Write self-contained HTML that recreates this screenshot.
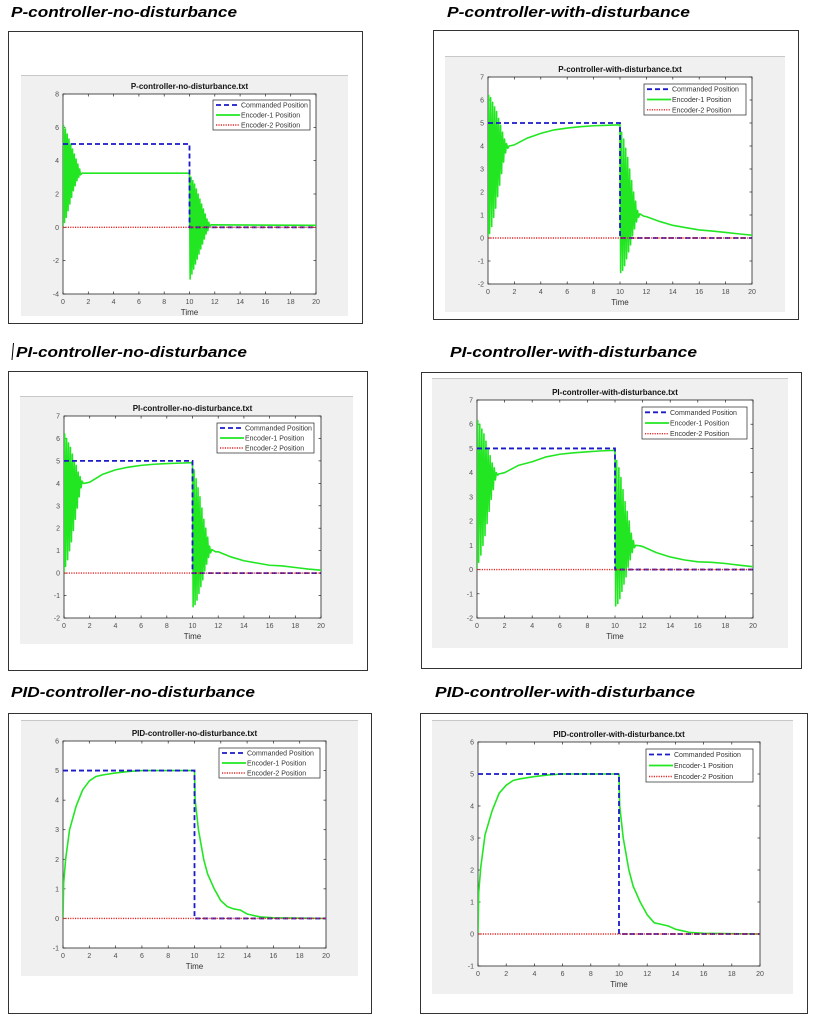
<!DOCTYPE html>
<html><head><meta charset="utf-8"><style>
html,body{margin:0;padding:0;background:#fff;}
svg{display:block;font-family:"Liberation Sans",sans-serif;}
</style></head><body>
<svg id="page" width="839" height="1024" viewBox="0 0 839 1024"></svg>
<script>
// ---------- data ----------
const xTicks = [0,2,4,6,8,10,12,14,16,18,20];
const cmdT = [0,10,10,20];
const cmdY = [5,5,0,0];
const enc2T = [0,20];
const enc2Y = [0,0];

// P controller, no disturbance
const pNoT = [0,0.05,0.12,0.19,0.26,0.33,0.40,0.47,0.54,0.61,0.68,0.75,0.82,0.89,0.96,1.03,1.10,1.17,1.24,1.31,1.38,1.5,10,10.05,10.12,10.19,10.26,10.33,10.40,10.47,10.54,10.61,10.68,10.75,10.82,10.89,10.96,11.03,11.10,11.17,11.24,11.31,11.38,11.45,11.52,11.6,11.7,20];
const pNoY = [0,6.1,0.3,5.9,0.6,5.6,1.0,5.3,1.4,5.0,1.8,4.7,2.2,4.4,2.5,4.1,2.8,3.8,3.0,3.5,3.15,3.25,3.25,-3.1,3.0,-2.8,2.8,-2.5,2.6,-2.2,2.3,-1.9,2.0,-1.6,1.7,-1.3,1.4,-1.0,1.1,-0.7,0.8,-0.4,0.5,-0.2,0.3,0.05,0.15,0.12];

// shared-shape series for P-with, PI-no, PI-with
const pWithT = [0,0.05,0.12,0.2,0.28,0.35,0.43,0.5,0.58,0.65,0.73,0.8,0.88,0.95,1.03,1.1,1.18,1.25,1.33,1.4,1.5,1.6,2,3,4,5,6,7,8,9,10,10.05,10.12,10.2,10.28,10.35,10.43,10.5,10.58,10.65,10.73,10.8,10.88,10.95,11.03,11.1,11.18,11.25,11.33,11.4,11.5,11.8,12,13,14,15,16,17,18,19,20];
const pWithY = [0,6.2,0.2,6.1,0.5,5.9,0.9,5.7,1.3,5.5,1.8,5.2,2.3,4.9,2.8,4.6,3.3,4.3,3.7,4.1,3.9,4.0,4.05,4.35,4.55,4.7,4.78,4.84,4.88,4.9,4.92,-1.5,4.6,-1.4,4.3,-1.2,3.9,-0.9,3.5,-0.6,3.0,-0.3,2.5,0.1,2.0,0.4,1.6,0.7,1.2,0.9,1.05,0.95,0.93,0.72,0.55,0.45,0.35,0.3,0.24,0.18,0.12];
const piNoT = pWithT.slice();
const piNoY = [0,6.2,0.3,6.0,0.6,5.8,1.0,5.6,1.4,5.3,1.9,5.0,2.4,4.8,2.9,4.5,3.4,4.3,3.8,4.1,4.0,4.0,4.05,4.4,4.6,4.72,4.8,4.85,4.88,4.9,4.92,-1.5,4.6,-1.4,4.2,-1.2,3.8,-0.9,3.4,-0.6,2.9,-0.3,2.4,0.1,2.0,0.4,1.6,0.7,1.2,0.9,1.05,0.95,0.95,0.72,0.55,0.45,0.35,0.32,0.25,0.18,0.13];
const piWithT = pWithT.slice();
const piWithY = [0,6.15,0.3,6.0,0.6,5.8,1.0,5.6,1.4,5.3,1.9,5.0,2.4,4.7,2.9,4.4,3.3,4.2,3.7,4.0,3.9,3.95,4.0,4.3,4.45,4.65,4.76,4.82,4.86,4.9,4.92,-1.5,4.5,-1.4,4.2,-1.2,3.8,-0.9,3.3,-0.6,2.8,-0.3,2.4,0.1,2.0,0.4,1.5,0.7,1.2,0.9,1.0,0.98,0.95,0.7,0.52,0.4,0.32,0.3,0.25,0.18,0.12];

// PID
const pidNoT = [0,0.05,0.2,0.5,1,1.5,2,2.5,3,4,5,6,10,10.05,10.3,10.7,11,11.5,12,12.5,13,13.5,14,15,16,20];
const pidNoY = [0,1.2,2.0,3.0,3.8,4.35,4.65,4.8,4.85,4.92,4.97,5.0,5.0,4.0,3.0,2.0,1.5,1.0,0.6,0.4,0.32,0.28,0.15,0.05,0.02,0];
const pidWithT = pidNoT.slice();
const pidWithY = [0,1.3,2.1,3.1,3.85,4.4,4.65,4.8,4.85,4.92,4.97,5.0,5.0,4.0,3.0,2.0,1.5,1.0,0.6,0.35,0.3,0.25,0.15,0.05,0.02,0];

// ---------- layout ----------
const panels = [
 {id:'p-no', head:'P-controller-no-disturbance', hx:11, hy:17, hw:226, frame:[8,31,362,323], gray:[21,75,348,316], plot:[63,94,316,294], ymin:-4, ymax:8, ystep:2, leg:[213,100,310,130], title:'P-controller-no-disturbance.txt', t:pNoT, y:pNoY},
 {id:'p-with', head:'P-controller-with-disturbance', hx:447, hy:17, hw:243, frame:[433,30,798,319], gray:[445,56,785,312], plot:[488,77,752,284], ymin:-2, ymax:7, ystep:1, leg:[644,84,746,115], title:'P-controller-with-disturbance.txt', t:pWithT, y:pWithY},
 {id:'pi-no', head:'PI-controller-no-disturbance', hx:16, hy:357, hw:231, frame:[8,371,367,670], gray:[20,396,353,644], plot:[64,416,321,618], ymin:-2, ymax:7, ystep:1, leg:[217,423,314,453], title:'PI-controller-no-disturbance.txt', t:piNoT, y:piNoY},
 {id:'pi-with', head:'PI-controller-with-disturbance', hx:450, hy:357, hw:247, frame:[421,372,801,668], gray:[432,378,788,648], plot:[477,400,753,618], ymin:-2, ymax:7, ystep:1, leg:[642,407,747,439], title:'PI-controller-with-disturbance.txt', t:piWithT, y:piWithY},
 {id:'pid-no', head:'PID-controller-no-disturbance', hx:11, hy:697, hw:244, frame:[8,713,371,1013], gray:[21,720,358,976], plot:[63,741,326,948], ymin:-1, ymax:6, ystep:1, leg:[219,748,320,778], title:'PID-controller-no-disturbance.txt', t:pidNoT, y:pidNoY},
 {id:'pid-with', head:'PID-controller-with-disturbance', hx:435, hy:697, hw:260, frame:[420,713,807,1013], gray:[432,720,793,994], plot:[478,742,760,966], ymin:-1, ymax:6, ystep:1, leg:[646,749,753,782], title:'PID-controller-with-disturbance.txt', t:pidWithT, y:pidWithY}
];

const NS='http://www.w3.org/2000/svg';
const svg=document.getElementById('page');
function mk(tag, attrs, parent){const e=document.createElementNS(NS,tag);for(const k in attrs)e.setAttribute(k,attrs[k]);(parent||svg).appendChild(e);return e;}
function txt(s, attrs, parent){const e=mk('text',attrs,parent);e.textContent=s;return e;}

panels.forEach(p=>{
  const g=mk('g',{});
  
  
  const h=txt(p.head,{x:p.hx,y:p.hy,'font-size':15,'font-weight':'bold','font-style':'italic',fill:'#000',textLength:p.hw,lengthAdjust:'spacingAndGlyphs'},g);
  
  
  const [fx1,fy1,fx2,fy2]=p.frame;
  const fr=mk('rect',{x:fx1+0.5,y:fy1+0.5,width:fx2-fx1,height:fy2-fy1,fill:'#fff',stroke:'#333','stroke-width':1},g);
  
  
  const [gx1,gy1,gx2,gy2]=p.gray;
  const gr=mk('rect',{x:gx1,y:gy1,width:gx2-gx1,height:gy2-gy1,fill:'#f0f0f0'},g);
  
  
  mk('line',{x1:gx1,y1:gy1+0.5,x2:gx2,y2:gy1+0.5,stroke:'#c8c8c8'},g);
  const [px1,py1,px2,py2]=p.plot;
  const X=v=>px1+(v-0)/(20-0)*(px2-px1);
  const Y=v=>py2-(v-p.ymin)/(p.ymax-p.ymin)*(py2-py1);
  const ax=mk('rect',{x:px1,y:py1,width:px2-px1,height:py2-py1,fill:'#fff',stroke:'#262626','stroke-width':0.8},g);
  
  
  const tt=txt(p.title,{x:(px1+px2)/2,y:py1-5,'font-size':8,'font-weight':'bold','text-anchor':'middle',fill:'#111'},g);
  
  
  xTicks.forEach(v=>{
    mk('line',{x1:X(v),y1:py2,x2:X(v),y2:py2-2.5,stroke:'#262626','stroke-width':0.7},g);
    mk('line',{x1:X(v),y1:py1,x2:X(v),y2:py1+2.5,stroke:'#262626','stroke-width':0.7},g);
    const l=txt(String(v),{x:X(v),y:py2+10,'font-size':7,'text-anchor':'middle',fill:'#4d4d4d'},g);
    
    
  });
  for(let v=p.ymin; v<=p.ymax; v+=p.ystep){
    mk('line',{x1:px1,y1:Y(v),x2:px1+2.5,y2:Y(v),stroke:'#262626','stroke-width':0.7},g);
    mk('line',{x1:px2,y1:Y(v),x2:px2-2.5,y2:Y(v),stroke:'#262626','stroke-width':0.7},g);
    const l=txt(String(v),{x:px1-4,y:Y(v)+2.5,'font-size':7,'text-anchor':'end',fill:'#4d4d4d'},g);
    
    
  }
  const xl=txt('Time',{x:(px1+px2)/2,y:py2+21,'font-size':8,'text-anchor':'middle',fill:'#333'},g);
  
  
  const path=(ts,ys)=>ts.map((t,i)=>(i?'L':'M')+X(t).toFixed(2)+','+Y(ys[i]).toFixed(2)).join('');
  const clip='clip-'+p.id;
  const cp=mk('clipPath',{id:clip},g); mk('rect',{x:px1,y:py1,width:px2-px1,height:py2-py1},cp);
  const lines=mk('g',{'clip-path':'url(#'+clip+')'},g);
  const e1=mk('path',{d:path(p.t,p.y),fill:'none',stroke:'#22e622','stroke-width':1.6,'stroke-linejoin':'round'},lines);
  
  
  const cm=mk('path',{d:path(cmdT,cmdY),fill:'none',stroke:'#1a1ac8','stroke-width':1.8,'stroke-dasharray':'5,3'},lines);
  
  
  const e2=mk('path',{d:path(enc2T,enc2Y),fill:'none',stroke:'#e02828','stroke-width':1.4,'stroke-dasharray':'1.2,1.2'},lines);
  
  
  // legend
  const [lx1,ly1,lx2,ly2]=p.leg;
  const lg=mk('g',{},g);
  
  
  mk('rect',{x:lx1,y:ly1,width:lx2-lx1,height:ly2-ly1,fill:'#fff',stroke:'#262626','stroke-width':0.7},lg);
  const rh=(ly2-ly1)/3;
  const names=['Commanded Position','Encoder-1 Position','Encoder-2 Position'];
  const styles=[{stroke:'#1a1ac8','stroke-width':1.8,'stroke-dasharray':'5,3'},{stroke:'#22e622','stroke-width':1.8},{stroke:'#e02828','stroke-width':1.4,'stroke-dasharray':'1.2,1.2'}];
  names.forEach((n,i)=>{
    const cy=ly1+rh*(i+0.5);
    mk('line',Object.assign({x1:lx1+3,y1:cy,x2:lx1+27,y2:cy},styles[i]),lg);
    const t=txt(n,{x:lx1+28,y:cy+2.5,'font-size':7,fill:'#333'},lg);
    
    
  });
});
mk('line',{x1:13.5,y1:343,x2:12,y2:360,stroke:'#000','stroke-width':1});
</script>
</body></html>
